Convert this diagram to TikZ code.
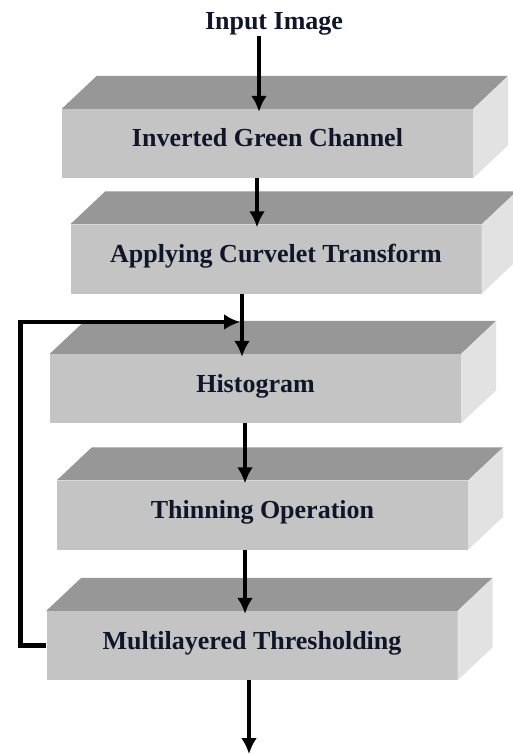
\documentclass[tikz,border=0pt]{standalone}
\usepackage{fontspec}
\setmainfont{Liberation Serif}
\usetikzlibrary{arrows.meta}

\definecolor{frontgray}{RGB}{196,196,196}
\definecolor{topgray}{RGB}{151,151,151}
\definecolor{sidegray}{RGB}{226,226,226}
\definecolor{textnavy}{RGB}{18,20,42}

\begin{document}
\begin{tikzpicture}[x=1pt,y=-1pt]
	\tikzstyle{block}=[fill=frontgray, minimum width=411pt, minimum height=69pt, inner sep=0pt, text height=17pt, text depth=10pt, font=\fontsize{26}{30}\selectfont\bfseries, text=textnavy]
	\tikzstyle{inputtext}=[inner sep=0pt, font=\fontsize{26}{30}\selectfont\bfseries, text=textnavy]
	\tikzstyle{arrow}=[draw, line width=4.5pt, -{Latex[length=16pt,width=16pt]}]
	\newcommand\DX{35pt}
	\newcommand\DY{33pt}

	\useasboundingbox (0,0) rectangle (513,754);

	% Input
	\node [inputtext, anchor=base] at (274,30) (input) {Input Image};

	% Blocks
	\node [block] at (267.5,143.5) (green) {Inverted Green Channel};
	\node [block] at (276,259) (curvelet) {Applying Curvelet Transform};
	\node [block] at (255.5,388.5) (hist) {Histogram};
	\node [block] at (262.5,515) (thin) {Thinning Operation};
	\node [block] at (252,645.5) (thresh) {Multilayered Thresholding};

	% Top and side faces
	\foreach \b in {green,curvelet,hist,thin,thresh}{
		\fill [topgray] (\b.north west) -- ([xshift=\DX,yshift=\DY]\b.north west) -- ([xshift=\DX,yshift=\DY]\b.north east) -- (\b.north east) -- cycle;
		\fill [sidegray] (\b.north east) -- ([xshift=\DX,yshift=\DY]\b.north east) -- ([xshift=\DX,yshift=\DY]\b.south east) -- (\b.south east) -- cycle;
	}

	% Path Arrows
	\path [arrow, shorten >=-3pt] (input.south -| 259,0) -- (green.north -| 259,0);
	\path [arrow, shorten >=-3pt] (green.south -| 257,0) -- (curvelet.north -| 257,0);
	\path [arrow, shorten >=-3pt] (curvelet.south -| 242,0) -- (hist.north -| 242,0);
	\path [arrow, shorten >=-3pt] (hist.south -| 245,0) -- (thin.north -| 245,0);
	\path [arrow, shorten >=-3pt] (thin.south -| 245,0) -- (thresh.north -| 245,0);
	\coordinate (out) at (249,754);
	\path [arrow] (thresh.south -| out) -- (out);

	% Feedback
	\coordinate (join) at (240,322);
	\path [arrow] (thresh.west) -- ++(-26,0) |- (join);
\end{tikzpicture}
\end{document}
